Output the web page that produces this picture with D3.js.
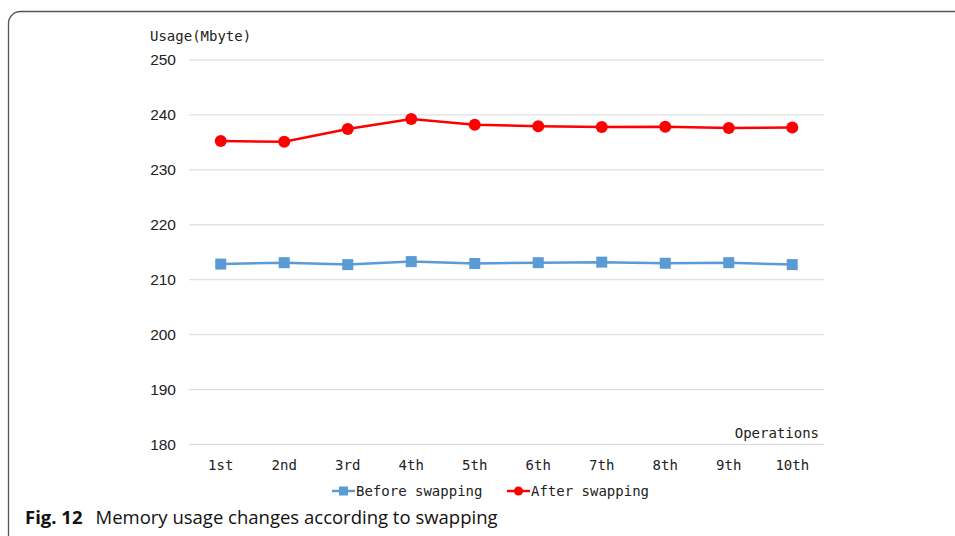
<!DOCTYPE html>
<html>
<head>
<meta charset="utf-8">
<script src="https://cdn.jsdelivr.net/npm/d3@7"></script>
<style>
  body { margin: 0; background: #fff; }
  svg { display: block; }
</style>
</head>
<body>
<div id="chart"></div>
<script>
const operations = ["1st", "2nd", "3rd", "4th", "5th", "6th", "7th", "8th", "9th", "10th"];
const beforeSwapping = [212.85, 213.1, 212.75, 213.3, 212.95, 213.1, 213.2, 213.0, 213.1, 212.75];
const afterSwapping = [235.25, 235.1, 237.45, 239.25, 238.2, 237.95, 237.8, 237.85, 237.6, 237.7];
const yTicks = [180, 190, 200, 210, 220, 230, 240, 250];

const width = 955, height = 536;
const plot = { left: 189, right: 824, top: 60, bottom: 444.5 };
const mono = "'DejaVu Sans Mono', monospace";
const sans = "'Liberation Sans', Arial, sans-serif";

const svg = d3.select("#chart").append("svg")
  .attr("width", width)
  .attr("height", height);

// frame with rounded top-left corner
svg.append("rect")
  .attr("x", 8.5).attr("y", 11.5)
  .attr("width", 980).attr("height", 540)
  .attr("rx", 12)
  .attr("fill", "none")
  .attr("stroke", "#555")
  .attr("stroke-width", 1.3);

const x = d3.scaleBand()
  .domain(operations)
  .range([plot.left, plot.right])
  .padding(0);

const y = d3.scaleLinear()
  .domain([180, 250])
  .range([plot.bottom, plot.top]);

// gridlines
svg.append("g")
  .selectAll("line")
  .data(yTicks)
  .join("line")
  .attr("x1", plot.left).attr("x2", plot.right)
  .attr("y1", d => y(d)).attr("y2", d => y(d))
  .attr("stroke", "#d9d9d9")
  .attr("stroke-width", 1);

// y tick labels
svg.append("g")
  .selectAll("text")
  .data(yTicks)
  .join("text")
  .attr("x", 176)
  .attr("y", d => y(d))
  .attr("dy", "0.35em")
  .attr("text-anchor", "end")
  .attr("font-family", sans)
  .attr("font-size", 15.5)
  .attr("fill", "#222")
  .text(d => d);

// x tick labels
svg.append("g")
  .selectAll("text")
  .data(operations)
  .join("text")
  .attr("x", d => x(d) + x.bandwidth() / 2)
  .attr("y", 465)
  .attr("dy", "0.35em")
  .attr("text-anchor", "middle")
  .attr("font-family", mono)
  .attr("font-size", 14)
  .attr("fill", "#222")
  .text(d => d);

svg.append("text")
  .attr("x", 150).attr("y", 36)
  .attr("dy", "0.35em")
  .attr("font-family", mono)
  .attr("font-size", 14)
  .attr("fill", "#222")
  .text("Usage(Mbyte)");

svg.append("text")
  .attr("x", 819).attr("y", 433)
  .attr("dy", "0.35em")
  .attr("text-anchor", "end")
  .attr("font-family", mono)
  .attr("font-size", 14)
  .attr("fill", "#222")
  .text("Operations");

const series = [
  { name: "Before swapping", values: beforeSwapping, color: "#5B9BD5", shape: "square" },
  { name: "After swapping", values: afterSwapping, color: "#FF0000", shape: "circle" }
];

const line = d3.line()
  .x((d, i) => x(operations[i]) + x.bandwidth() / 2)
  .y(d => y(d));

function drawMarker(g, shape, color, cx, cy) {
  if (shape === "square") {
    g.append("rect")
      .attr("x", cx - 5.5).attr("y", cy - 5.5)
      .attr("width", 11).attr("height", 11)
      .attr("fill", color);
  } else {
    g.append("circle")
      .attr("cx", cx).attr("cy", cy)
      .attr("r", 6)
      .attr("fill", color);
  }
}

series.forEach(s => {
  svg.append("path")
    .datum(s.values)
    .attr("d", line)
    .attr("fill", "none")
    .attr("stroke", s.color)
    .attr("stroke-width", 2.5);

  const g = svg.append("g");
  s.values.forEach((v, i) => {
    drawMarker(g, s.shape, s.color, x(operations[i]) + x.bandwidth() / 2, y(v));
  });
});

// legend
const legendItems = [
  { s: series[0], x0: 332 },
  { s: series[1], x0: 507 }
];
legendItems.forEach(({ s, x0 }) => {
  const ly = 491;
  const g = svg.append("g");
  g.append("line")
    .attr("x1", x0).attr("x2", x0 + 23)
    .attr("y1", ly).attr("y2", ly)
    .attr("stroke", s.color)
    .attr("stroke-width", 2.5);
  if (s.shape === "square") {
    g.append("rect")
      .attr("x", x0 + 11.5 - 4.5).attr("y", ly - 4.5)
      .attr("width", 9).attr("height", 9)
      .attr("fill", s.color);
  } else {
    g.append("circle")
      .attr("cx", x0 + 11.5).attr("cy", ly)
      .attr("r", 4.5)
      .attr("fill", s.color);
  }
  g.append("text")
    .attr("x", x0 + 24).attr("y", ly)
    .attr("dy", "0.35em")
    .attr("font-family", mono)
    .attr("font-size", 14)
    .attr("fill", "#222")
    .text(s.name);
});

// caption
const caption = svg.append("text")
  .attr("x", 25).attr("y", 524)
  .attr("font-family", "'Open Sans', 'Noto Sans', sans-serif")
  .attr("font-size", 18.5)
  .attr("fill", "#111");
caption.append("tspan").attr("font-weight", "bold").text("Fig. 12");
caption.append("tspan").attr("dx", 13).text("Memory usage changes according to swapping");
</script>
</body>
</html>
